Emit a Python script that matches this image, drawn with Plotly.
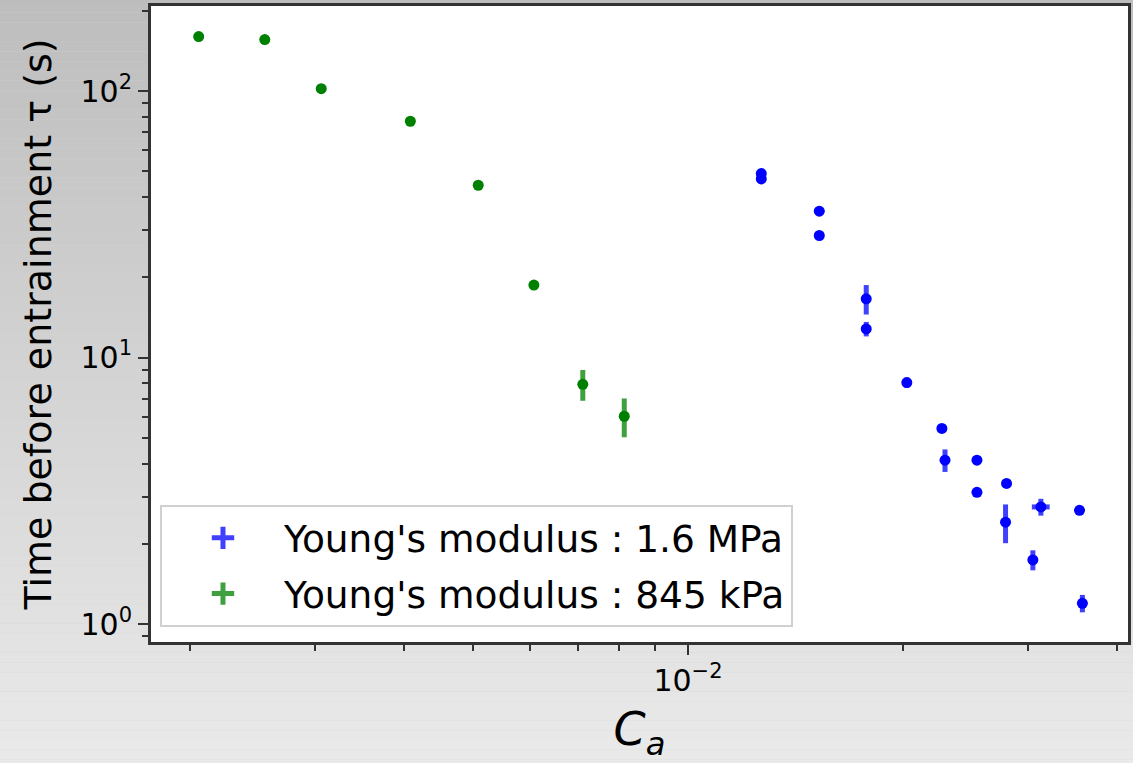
import plotly.graph_objects as go

# ---- data ----
green_x = [2.06e-3, 2.55e-3, 3.06e-3, 4.08e-3, 5.08e-3, 6.08e-3, 7.12e-3, 8.14e-3]
green_y = [160, 156, 102, 77, 44.3, 18.7, 7.93, 6.02]
green_yerr = [0, 0, 0, 0, 0, 0, 1.05, 1.0]
green_xerr = [0, 0, 0, 0, 0, 0, 0, 0]

blue_x = [0.01267, 0.01267, 0.01528, 0.01528, 0.01778, 0.01778, 0.02027, 0.0227,
          0.02293, 0.02542, 0.02542, 0.02797, 0.02788, 0.03045, 0.03125, 0.0354, 0.03573]
blue_y = [49.0, 46.8, 35.4, 28.7, 16.6, 12.8, 8.05, 5.42,
          4.12, 4.12, 3.12, 3.37, 2.41, 1.74, 2.75, 2.67, 1.196]
blue_yerr = [0, 0, 0, 0, 2.1, 0.8, 0.35, 0,
             0.4, 0, 0, 0, 0.4, 0.15, 0.2, 0, 0.09]
blue_xerr = [0, 0, 0, 0, 0, 0, 0, 0,
             0, 0, 0, 0, 0, 0, 0.0009, 0, 0]

legend_names = ["Young's modulus : 1.6 MPa", "Young's modulus : 845 kPa"]
y_tickvals = [1, 10, 100]
y_ticktext = ["10<sup>0</sup>", "10<sup>1</sup>", "10<sup>2</sup>"]
x_tickvals = [0.01]
x_ticktext = ["10<sup>\u22122</sup>"]

BLUE = "#0000ff"
BLUE_BAR = "rgba(0,0,255,0.75)"
GREEN = "#008000"
GREEN_BAR = "rgba(0,128,0,0.75)"
FONT = "DejaVu Sans"

fig = go.Figure()

fig.add_trace(go.Scatter(
    x=blue_x, y=blue_y, mode="markers", showlegend=False,
    marker=dict(color=BLUE, size=11),
    error_y=dict(type="data", array=blue_yerr, color=BLUE_BAR, thickness=5, width=0),
    error_x=dict(type="data", array=blue_xerr, color=BLUE_BAR, thickness=5, width=0),
))
fig.add_trace(go.Scatter(
    x=green_x, y=green_y, mode="markers", showlegend=False,
    marker=dict(color=GREEN, size=11),
    error_y=dict(type="data", array=green_yerr, color=GREEN_BAR, thickness=5, width=0),
    error_x=dict(type="data", array=green_xerr, color=GREEN_BAR, thickness=5, width=0),
))
# legend entries
for name, col in zip(legend_names, [BLUE_BAR, GREEN_BAR]):
    fig.add_trace(go.Scatter(
        x=[None], y=[None], mode="markers", name=name, legendgroup=name,
        marker=dict(symbol="cross-thin", size=40, line=dict(color=col, width=5)),
    ))

# gradient figure background (decoration)
shapes = []
n = 80
for i in range(n):
    t = i / (n - 1)
    g = int(round(189 + (234 - 189) * t))
    shapes.append(dict(type="rect", xref="paper", yref="paper", layer="below",
                       x0=-0.2, x1=1.2,
                       y0=1.02 - (i + 1) * (1.22 / n), y1=1.02 - i * (1.22 / n),
                       fillcolor=f"rgb({g},{g},{g})", line=dict(width=0)))
shapes.append(dict(type="rect", xref="x domain", yref="y domain", layer="below",
                   x0=0, x1=1, y0=0, y1=1, fillcolor="white", line=dict(width=0)))

axis_common = dict(
    type="log", showgrid=False, zeroline=False,
    showline=True, linecolor="#333333", linewidth=3, mirror=True,
    ticks="outside", ticklen=10, tickwidth=2, tickcolor="#333333",
    tickfont=dict(family=FONT, size=30, color="black"),
    minor=dict(ticks="outside", ticklen=6, tickwidth=2, tickcolor="#333333",
               dtick="D1", showgrid=False),
)

fig.update_layout(
    width=1133, height=763,
    margin=dict(l=151, r=2, t=6, b=121),
    paper_bgcolor="#d4d4d4", plot_bgcolor="white",
    shapes=shapes,
    font=dict(family=FONT, color="black"),
    xaxis=dict(**axis_common, range=[-2.753, -1.383],
               tickmode="array", tickvals=x_tickvals, ticktext=x_ticktext,
               title=dict(text="<i>C</i><sub><i>a</i></sub>",
                          font=dict(family=FONT, size=46), standoff=20)),
    yaxis=dict(**axis_common, range=[-0.0675, 2.319],
               tickmode="array", tickvals=y_tickvals, ticktext=y_ticktext,
               title=dict(text="Time before entrainment \u03c4 (s)",
                          font=dict(family=FONT, size=38), standoff=18)),
    legend=dict(x=0.0092, y=0.0236, xanchor="left", yanchor="bottom",
                bgcolor="white", bordercolor="#d0d0d0", borderwidth=2,
                font=dict(family=FONT, size=37.5, color="black"),
                itemwidth=112, tracegroupgap=4),
)

fig.write_html("out.html")
